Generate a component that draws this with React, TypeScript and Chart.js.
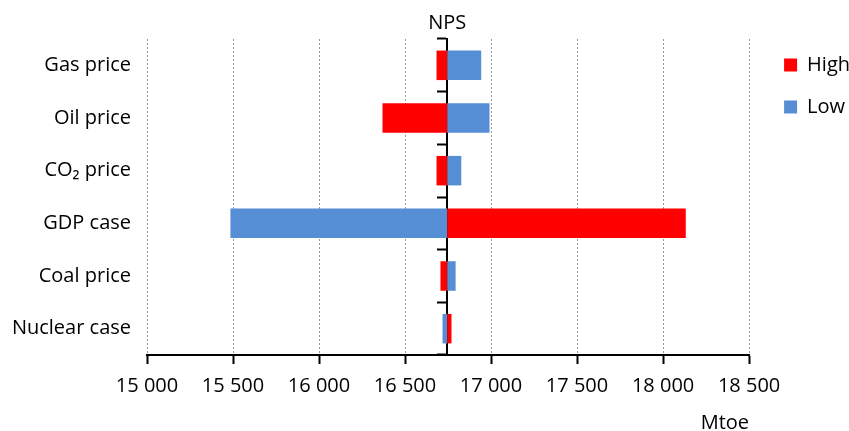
import React, { useEffect, useRef } from "react";
import { Chart, registerables } from "chart.js";

Chart.register(...registerables);

const categories = ["Gas price", "Oil price", "CO₂ price", "GDP case", "Coal price", "Nuclear case"];
const npsValue = 16745;
const highValues = [16683, 16369, 16683, 18132, 16706, 16770];
const lowValues = [16943, 16991, 16827, 15485, 16794, 16718];
const axisMin = 15000;
const axisMax = 18500;
const axisStep = 500;

const fmt = (v: number) => Math.round(v).toString().replace(/\B(?=(\d{3})+(?!\d))/g, " ");

export default function App() {
  const ref = useRef<HTMLCanvasElement | null>(null);
  useEffect(() => {
    if (!ref.current) return;
    Chart.defaults.font.family = "'Open Sans', sans-serif";
    Chart.defaults.color = "#000";
    const font20 = { size: 20 };
    const chart = new Chart(ref.current, {
      type: "bar",
      data: {
        labels: categories,
        datasets: [
          {
            label: "High",
            data: highValues.map((v) => [npsValue, v]) as any,
            backgroundColor: "#FF0000",
            grouped: false,
            categoryPercentage: 1,
            barPercentage: 0.56,
            yAxisID: "y",
            xAxisID: "x",
          } as any,
          {
            label: "Low",
            data: lowValues.map((v) => [npsValue, v]) as any,
            backgroundColor: "#558ED5",
            grouped: false,
            categoryPercentage: 1,
            barPercentage: 0.56,
            yAxisID: "y",
            xAxisID: "x",
          } as any,
        ],
      },
      options: {
        indexAxis: "y",
        animation: false,
        responsive: false,
        layout: { padding: { left: 12, top: 7, right: -11, bottom: 0 } },
        plugins: {
          tooltip: { enabled: false },
          legend: {
            position: "right",
            align: "start",
            title: { display: true, text: " ", font: { size: 10 }, padding: { top: 14, bottom: 0 } },
            labels: { boxWidth: 13, boxHeight: 13, padding: 22, font: font20, color: "#000" },
          },
        },
        scales: {
          x: {
            type: "linear",
            position: "bottom",
            min: axisMin,
            max: axisMax,
            ticks: {
              stepSize: axisStep,
              maxRotation: 0,
              padding: 10,
              font: font20,
              color: "#000",
              callback: (v: any) => fmt(Number(v)),
            },
            grid: {
              display: true,
              drawOnChartArea: true,
              color: "#999",
              lineWidth: 1,
              drawTicks: true,
              tickLength: 9,
              tickWidth: 2,
              tickColor: "#000",
              tickBorderDash: [],
            } as any,
            border: { display: true, color: "#000", width: 2, dash: [2, 2] },
            title: {
              display: true,
              text: "Mtoe",
              align: "end",
              color: "#000",
              font: { size: 20, lineHeight: 0.8 },
              padding: { top: 7, bottom: 0 },
            },
          },
          x2: {
            type: "linear",
            position: "top",
            min: axisMin,
            max: axisMax,
            afterBuildTicks: (s: any) => {
              s.ticks = [{ value: npsValue }];
            },
            ticks: {
              maxRotation: 0,
              padding: 4,
              font: font20,
              color: "#000",
              autoSkip: false,
              callback: () => "NPS",
            },
            grid: { display: false, drawTicks: false },
            border: { display: false },
          },
          y: {
            type: "category",
            position: "left",
            offset: true,
            ticks: { font: font20, color: "#000", padding: 16 },
            grid: { display: false, drawTicks: false },
            border: { display: false },
            afterFit: (s: any) => {
              s.width = 135;
            },
          },
          y2: {
            type: "category",
            position: { x: npsValue } as any,
            offset: true,
            z: 1,
            ticks: { display: false },
            grid: {
              display: true,
              offset: true,
              drawOnChartArea: false,
              drawTicks: true,
              tickLength: 9,
              tickWidth: 2,
              tickColor: "#000",
              color: "#000",
            },
            border: { display: true, color: "#000", width: 2 },
          },
          yPad: {
            type: "category",
            position: "right",
            ticks: { display: false },
            grid: { display: false, drawTicks: false },
            border: { display: false },
            afterFit: (s: any) => {
              s.width = 13;
            },
          },
        },
      } as any,
    });
    return () => chart.destroy();
  }, []);
  return (
    <div style={{ position: "fixed", left: 0, top: 0, width: 849, height: 431, background: "#fff" }}>
      <canvas ref={ref} width={849} height={431} style={{ display: "block" }} />
    </div>
  );
}
